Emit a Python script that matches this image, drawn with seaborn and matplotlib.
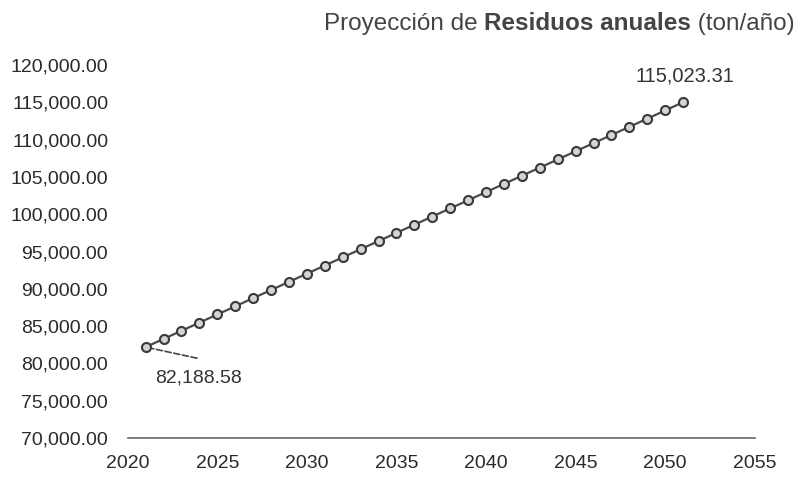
import matplotlib.pyplot as plt
import matplotlib.ticker as mticker
import pandas as pd
import seaborn as sns

# Data (annual waste projection, ton/year)
years = list(range(2021, 2052))
residuos = [82188.58, 83280, 84370, 85460, 86560, 87650, 88750, 89840,
            90930, 92030, 93120, 94220, 95310, 96400, 97500, 98590,
            99690, 100780, 101870, 102970, 104060, 105160, 106250, 107340,
            108440, 109530, 110620, 111720, 112810, 113910, 115023.31]
x_ticks = [2020, 2025, 2030, 2035, 2040, 2045, 2050, 2055]
y_ticks = list(range(70000, 120001, 5000))

df = pd.DataFrame({'year': years, 'residuos': residuos})

sns.set_style('white')
plt.rcParams['font.family'] = ['Liberation Sans', 'DejaVu Sans']

fig = plt.figure(figsize=(8.03, 4.8), dpi=100)
ax = fig.add_axes([0.159, 0.0875, 0.781, 0.777])

sns.lineplot(data=df, x='year', y='residuos', ax=ax, color='#4a4a4a',
             linewidth=1.6, marker='o', markersize=6.5,
             markerfacecolor='#d4d4d4', markeredgecolor='#3a3a3a',
             markeredgewidth=1.5)

ax.set_xlim(2020, 2055)
ax.set_ylim(70000, 120000)
ax.set_xticks(x_ticks)
ax.set_yticks(y_ticks)
ax.yaxis.set_major_formatter(mticker.FuncFormatter(lambda v, p: f'{v:,.2f}'))
ax.tick_params(axis='both', length=0, labelsize=14, colors='#2a2a2a')
ax.tick_params(axis='y', pad=14)
ax.tick_params(axis='x', pad=12)
ax.set_xlabel('')
ax.set_ylabel('')

for side in ['left', 'right', 'top']:
  ax.spines[side].set_visible(False)
ax.spines['bottom'].set_color('#666666')
ax.spines['bottom'].set_linewidth(1.2)

# Data labels for first and last values
ax.annotate('', xy=(years[0], residuos[0]), xytext=(37, -8),
            textcoords='offset points',
            arrowprops=dict(arrowstyle='-', linestyle='--', color='#444444',
                            lw=1.2, shrinkA=0, shrinkB=4))
ax.annotate(f'{residuos[0]:,.2f}', xy=(years[0], residuos[0]),
            xytext=(38, -22), textcoords='offset points',
            ha='center', va='center', fontsize=14, color='#333333')
ax.annotate(f'{residuos[-1]:,.2f}', xy=(years[-1], residuos[-1]),
            xytext=(1, 19), textcoords='offset points',
            ha='center', va='center', fontsize=14.5, color='#333333')

# Title with a bold middle part
t1 = fig.text(0.990, 0.928, ' (ton/año)', ha='right', va='bottom',
              fontsize=17.5, color='#444444')
t2 = ax.annotate('Residuos anuales', xy=(0, 0), xycoords=t1, ha='right',
                 va='bottom', fontsize=17.5, fontweight='bold',
                 color='#444444')
ax.annotate('Proyección de ', xy=(0, 0), xycoords=t2, ha='right',
            va='bottom', fontsize=17.5, color='#444444')

fig.savefig('out.png')
